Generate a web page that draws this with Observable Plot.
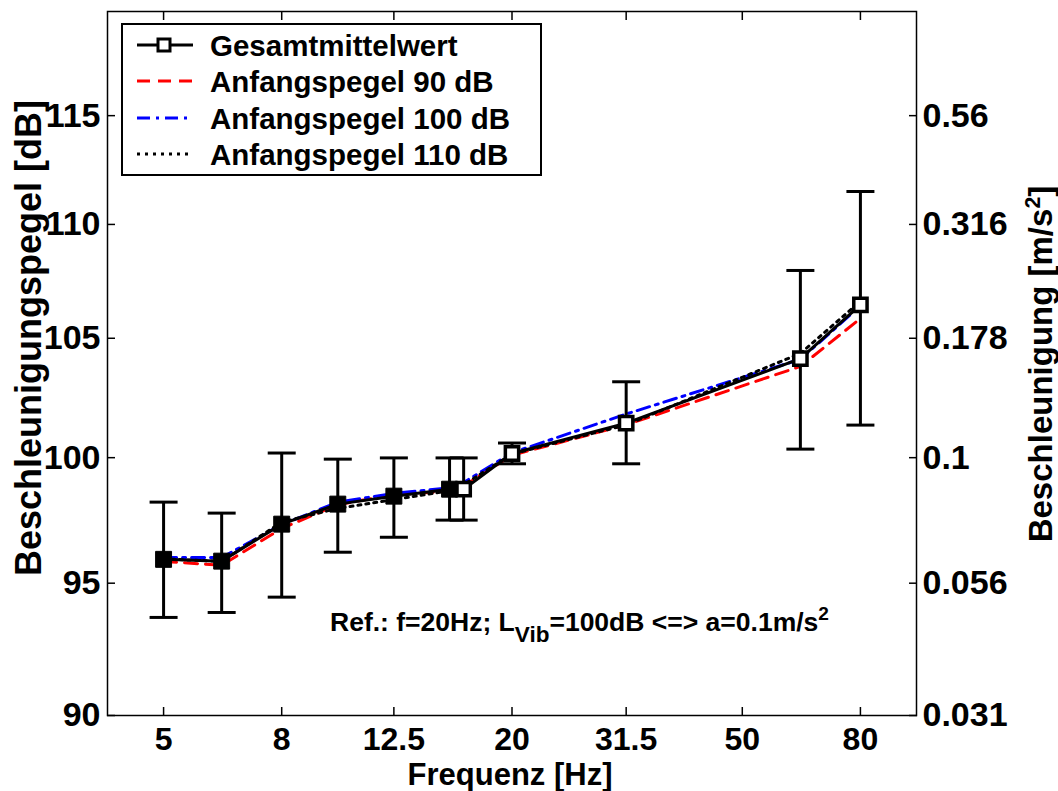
<!DOCTYPE html>
<html><head><meta charset="utf-8">
<script src="https://cdn.jsdelivr.net/npm/d3@7"></script>
<script src="https://cdn.jsdelivr.net/npm/@observablehq/plot@0.6"></script>
<style>
body{margin:0;background:#fff;}
#wrap{position:relative;width:1058px;height:791px;overflow:hidden;font-family:"Liberation Sans",Arial,Helvetica,sans-serif;font-weight:bold;color:#000;}
.ov{position:absolute;white-space:nowrap;line-height:1;}
</style></head><body><div id="wrap"></div>
<script>
// ---- data ----
const xTicks = [5, 8, 12.5, 20, 31.5, 50, 80];
const yTicks = [90, 95, 100, 105, 110, 115];
const accelLabels = ["0.031", "0.056", "0.1", "0.178", "0.316", "0.56"];

const freqMean = [5, 6.3, 8, 10, 12.5, 15.6, 16.5, 20, 31.5, 63, 80];
const meanDb   = [95.93, 95.86, 97.32, 98.12, 98.44, 98.72, 98.72, 100.17, 101.42, 104.13, 106.44];
const errLow   = [93.68, 93.87, 94.46, 96.21, 96.80, 97.48, 97.48, 99.75, 99.75, 100.35, 101.34];
const errHigh  = [98.20, 97.76, 100.19, 99.94, 99.99, 99.99, 99.99, 100.60, 103.15, 107.95, 111.49];
const markerFilled = [true, true, true, true, true, true, false, false, false, false, false];

const freqSeries = [5, 6.3, 8, 10, 12.5, 16, 20, 31.5, 63, 80];
const level90  = [95.85, 95.70, 97.15, 98.10, 98.50, 98.65, 100.10, 101.35, 103.80, 105.85];
const level100 = [96.00, 96.00, 97.30, 98.20, 98.55, 98.80, 100.20, 101.80, 104.10, 106.40];
const level110 = [95.95, 95.85, 97.40, 97.95, 98.30, 98.70, 100.15, 101.35, 104.35, 106.60];

const seriesNames = ["Gesamtmittelwert", "Anfangspegel 90 dB", "Anfangspegel 100 dB", "Anfangspegel 110 dB"];
const xLabel = "Frequenz [Hz]";
const yLabel = "Beschleunigungspegel [dB]";

// ---- styles ----
const seriesStyles = [
  {stroke: "#000000", dash: null, marker: true},
  {stroke: "#ff0000", dash: "13,8", marker: false},
  {stroke: "#0000ff", dash: "13,6,3,6", marker: false},
  {stroke: "#000000", dash: "3,5", marker: false}
];

const meanRows = freqMean.map((f, i) => ({f, db: meanDb[i], lo: errLow[i], hi: errHigh[i], filled: markerFilled[i]}));
const mk = vals => freqSeries.map((f, i) => ({f, db: vals[i]}));
const levelRows = [mk(level90), mk(level100), mk(level110)];
const accelByDb = new Map(yTicks.map((d, i) => [d, accelLabels[i]]));

const capSymbol = {draw(ctx, size) { const r = Math.sqrt(size / Math.PI); ctx.moveTo(-r, 0); ctx.lineTo(r, 0); }};
const font = {fontSize: 34, fontWeight: "bold"};

const chart = Plot.plot({
  width: 1058, height: 791,
  marginLeft: 107, marginRight: 142, marginTop: 11, marginBottom: 76,
  style: {fontFamily: '"Liberation Sans", Arial, sans-serif', fontWeight: "bold", background: "#fff", overflow: "visible"},
  x: {type: "log", domain: [4, 100]},
  y: {type: "log", domain: [90, 120]},
  marks: [
    ...levelRows.map((rows, k) => Plot.line(rows, {x: "f", y: "db", stroke: seriesStyles[k + 1].stroke, strokeWidth: 3, strokeDasharray: seriesStyles[k + 1].dash})),
    Plot.ruleX(meanRows, {x: "f", y1: "lo", y2: "hi", stroke: "black", strokeWidth: 3}),
    Plot.dot(meanRows, {x: "f", y: "lo", symbol: capSymbol, r: 14, fill: "none", stroke: "black", strokeWidth: 3}),
    Plot.dot(meanRows, {x: "f", y: "hi", symbol: capSymbol, r: 14, fill: "none", stroke: "black", strokeWidth: 3}),
    Plot.line(meanRows, {x: "f", y: "db", stroke: "black", strokeWidth: 3}),
    Plot.dot(meanRows.filter(d => d.filled), {x: "f", y: "db", symbol: "square", r: 9, fill: "black", stroke: "black", strokeWidth: 1}),
    Plot.dot(meanRows.filter(d => !d.filled), {x: "f", y: "db", symbol: "square", r: 7.5, fill: "white", stroke: "black", strokeWidth: 3.5}),
    Plot.frame({stroke: "black", strokeWidth: 1.5}),
    Plot.axisX(xTicks, {anchor: "bottom", tickSize: -8, tickFormat: () => "", label: null, strokeWidth: 1.5}),
    Plot.text(xTicks, {x: d => d, text: d => String(d), frameAnchor: "bottom", lineAnchor: "top", dy: 12, fontSize: 32, fontWeight: "bold"}),
    Plot.axisX(xTicks, {anchor: "top", tickSize: -8, tickFormat: () => "", label: null, strokeWidth: 1.5}),
    Plot.axisY(yTicks, {anchor: "left", tickSize: -8, tickPadding: 15, tickFormat: d => String(d), label: null, strokeWidth: 1.5, ...font}),
    Plot.axisY(yTicks, {anchor: "right", tickSize: -8, tickPadding: 14, tickFormat: d => accelByDb.get(d), label: null, strokeWidth: 1.5, ...font})
  ]
});
const wrap = document.getElementById("wrap");
wrap.appendChild(chart);

function addDiv(html, css) {
  const d = document.createElement("div");
  d.className = "ov";
  d.innerHTML = html;
  Object.assign(d.style, css);
  wrap.appendChild(d);
  return d;
}
// axis labels
addDiv(yLabel, {left: "29px", top: "338px", fontSize: "36px", transform: "translate(-50%,-50%) rotate(-90deg)"});
addDiv('Beschleunigung [m/s<sup style="font-size:0.65em;vertical-align:0.6em">2</sup>]', {left: "1040px", top: "364px", fontSize: "33px", transform: "translate(-50%,-50%) rotate(-90deg)"});
addDiv(xLabel, {left: "510px", top: "759px", fontSize: "31px", transform: "translateX(-50%)"});
// annotation
addDiv('Ref.: f=20Hz; L<sub style="font-size:0.85em;vertical-align:-0.45em">Vib</sub>=100dB &lt;=&gt; a=0.1m/s<sup style="font-size:0.72em;vertical-align:0.6em">2</sup>',
  {left: "330px", top: "604px", fontSize: "26.5px"});

// legend
const ns = "http://www.w3.org/2000/svg";
const leg = document.createElementNS(ns, "svg");
leg.setAttribute("width", 421); leg.setAttribute("height", 153);
leg.style.position = "absolute"; leg.style.left = "121px"; leg.style.top = "23px";
const rowY = [22, 58, 95, 131];
let inner = '<rect x="1" y="1" width="419" height="151" fill="white" stroke="black" stroke-width="2"/>';
seriesNames.forEach((name, i) => {
  const s = seriesStyles[i];
  inner += `<line x1="16" x2="72" y1="${rowY[i]}" y2="${rowY[i]}" stroke="${s.stroke}" stroke-width="3" ${s.dash ? `stroke-dasharray="${s.dash}"` : ""}/>`;
  if (s.marker) inner += `<rect x="37" y="${rowY[i] - 6}" width="12" height="12" fill="white" stroke="black" stroke-width="3"/>`;
  inner += `<text x="89" y="${rowY[i] + 10.5}" font-family="Liberation Sans, Arial, sans-serif" font-weight="bold" font-size="29.5">${name}</text>`;
});
leg.innerHTML = inner;
wrap.appendChild(leg);
</script>
</body></html>
